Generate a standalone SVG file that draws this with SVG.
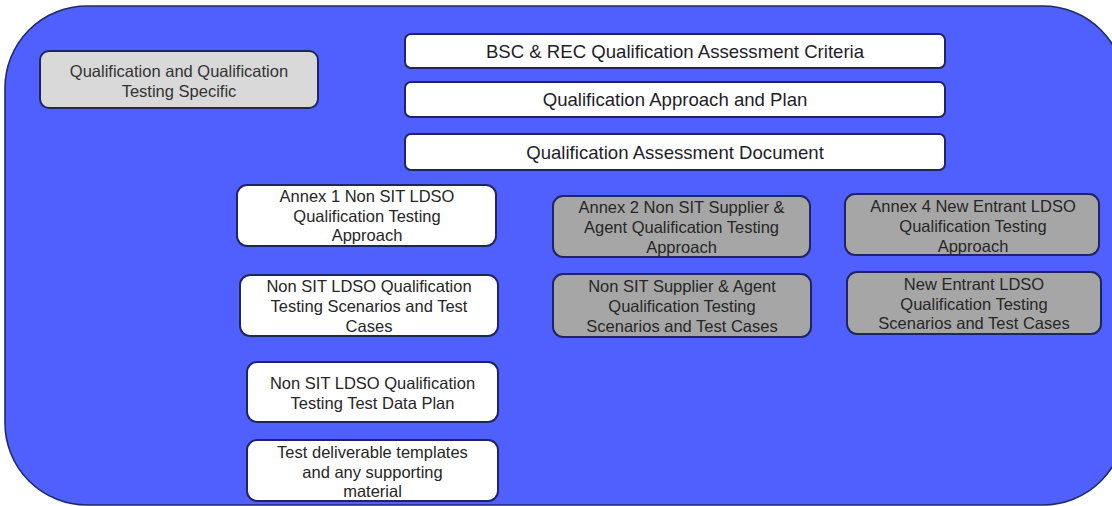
<svg xmlns="http://www.w3.org/2000/svg" width="1112" height="506" viewBox="0 0 1112 506">
<style>
.bg{fill:#5060FF;stroke:#1F2A66;stroke-width:1.6}
.box{stroke:#1F2560;stroke-width:2}
.w{fill:#FFFFFF}
.g{fill:#A6A6A6}
.lg{fill:#D9D9D9}
text{font-family:"Liberation Sans",Arial,sans-serif;text-anchor:middle}
.t{font-size:16.5px;fill:#262626}
.big{font-size:18.6px;fill:#1E1E2A}
.dk{fill:#333333}
</style>
<rect class="bg" x="5" y="6" width="1120" height="499" rx="82" ry="82"/>
<g id="connectors"/>
<g id="n-specific">
<rect class="box lg" x="40" y="51" width="278" height="57" rx="9"/>
<text class="t dk" x="179" y="77">Qualification and Qualification</text>
<text class="t dk" x="179" y="97">Testing Specific</text>
</g>
<g id="n-bsc">
<rect class="box w" x="405" y="34" width="540" height="34" rx="6"/>
<text class="big" x="675" y="58">BSC &amp; REC Qualification Assessment Criteria</text>
</g>
<g id="n-approach">
<rect class="box w" x="405" y="82" width="540" height="35" rx="6"/>
<text class="big" x="675" y="106">Qualification Approach and Plan</text>
</g>
<g id="n-doc">
<rect class="box w" x="405" y="134" width="540" height="36" rx="6"/>
<text class="big" x="675" y="158.5">Qualification Assessment Document</text>
</g>
<g id="n-annex1">
<rect class="box w" x="237" y="185" width="259" height="61" rx="10"/>
<text class="t" x="367" y="202">Annex 1 Non SIT LDSO</text>
<text class="t" x="367" y="222">Qualification Testing</text>
<text class="t" x="367" y="241">Approach</text>
</g>
<g id="n-ldso-scen">
<rect class="box w" x="240" y="275" width="258" height="61" rx="10"/>
<text class="t" x="369" y="292">Non SIT LDSO Qualification</text>
<text class="t" x="369" y="312">Testing Scenarios and Test</text>
<text class="t" x="369" y="332">Cases</text>
</g>
<g id="n-ldso-data">
<rect class="box w" x="247" y="362" width="251" height="60" rx="10"/>
<text class="t" x="372.5" y="389">Non SIT LDSO Qualification</text>
<text class="t" x="372.5" y="409">Testing Test Data Plan</text>
</g>
<g id="n-templates">
<rect class="box w" x="247" y="440" width="251" height="61" rx="10"/>
<text class="t" x="372.5" y="458">Test deliverable templates</text>
<text class="t" x="372.5" y="478">and any supporting</text>
<text class="t" x="372.5" y="497">material</text>
</g>
<g id="n-annex2">
<rect class="box g" x="553" y="196" width="257" height="61" rx="10"/>
<text class="t" x="681.5" y="213">Annex 2 Non SIT Supplier &amp;</text>
<text class="t" x="681.5" y="233">Agent Qualification Testing</text>
<text class="t" x="681.5" y="253">Approach</text>
</g>
<g id="n-supplier-scen">
<rect class="box g" x="553" y="274" width="258" height="63" rx="10"/>
<text class="t" x="682" y="292">Non SIT Supplier &amp; Agent</text>
<text class="t" x="682" y="312">Qualification Testing</text>
<text class="t" x="682" y="332">Scenarios and Test Cases</text>
</g>
<g id="n-annex4">
<rect class="box g" x="845" y="194" width="254" height="61" rx="10"/>
<text class="t" x="973" y="212">Annex 4 New Entrant LDSO</text>
<text class="t" x="973" y="232">Qualification Testing</text>
<text class="t" x="973" y="252">Approach</text>
</g>
<g id="n-entrant-scen">
<rect class="box g" x="847" y="272" width="254" height="62" rx="10"/>
<text class="t" x="974" y="290">New Entrant LDSO</text>
<text class="t" x="974" y="310">Qualification Testing</text>
<text class="t" x="974" y="329">Scenarios and Test Cases</text>
</g>
</svg>
